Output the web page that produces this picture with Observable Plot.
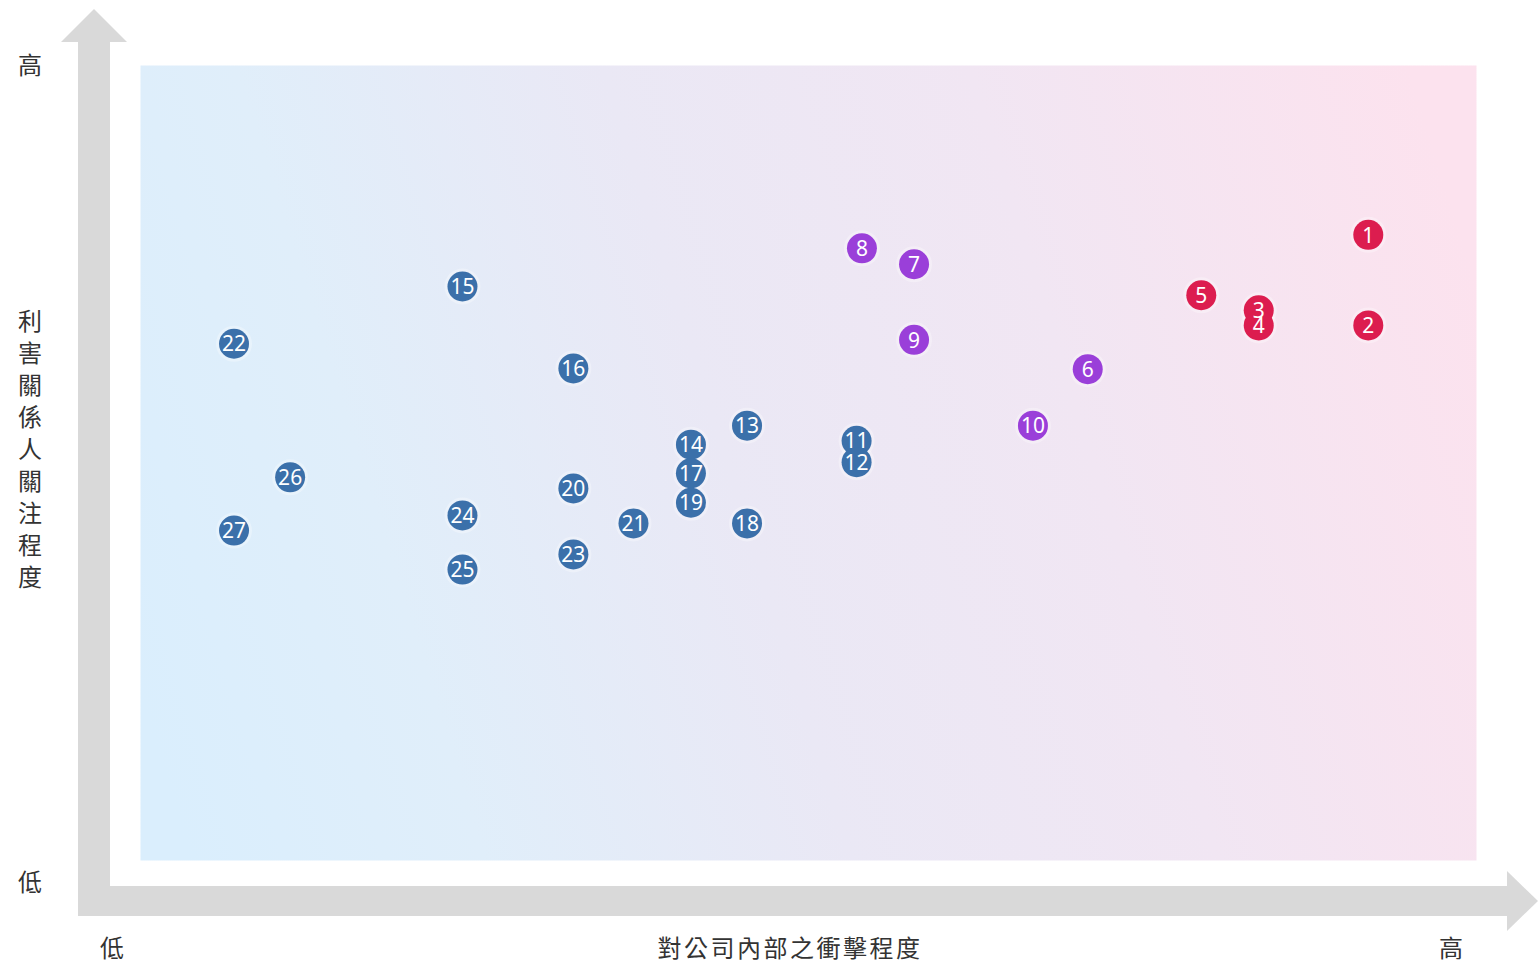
<!DOCTYPE html>
<html>
<head>
<meta charset="utf-8">
<script src="https://cdn.jsdelivr.net/npm/d3@7"></script>
<script src="https://cdn.jsdelivr.net/npm/@observablehq/plot@0.6"></script>
<style>
  html, body { margin: 0; padding: 0; background: #fff; }
  #chart { width: 1538px; height: 967px; }
</style>
</head>
<body>
<div id="chart"></div>
<script>
// Issue ids, impact on company (x), stakeholder concern (y), group
const ids    = [1, 2, 3, 4, 5, 6, 7, 8, 9, 10, 11, 12, 13, 14, 15, 16, 17, 18, 19, 20, 21, 22, 23, 24, 25, 26, 27];
const impact = [91.9, 91.9, 83.7, 83.7, 79.4, 70.9, 57.9, 54.0, 57.9, 66.8, 53.6, 53.6, 45.4, 41.2, 24.1, 32.4, 41.2, 45.4, 41.2, 32.4, 36.9, 7.0, 32.4, 24.1, 24.1, 11.2, 7.0];
const concern= [78.7, 67.3, 69.2, 67.3, 71.1, 61.8, 75.0, 77.0, 65.5, 54.7, 52.8, 50.1, 54.7, 52.3, 72.2, 61.9, 48.7, 42.4, 45.0, 46.8, 42.4, 65.0, 38.5, 43.4, 36.6, 48.2, 41.5];
const groups = ["high","high","high","high","high","mid","mid","mid","mid","mid",
                "low","low","low","low","low","low","low","low","low","low","low","low","low","low","low","low","low"];
const groupNames  = ["high", "mid", "low"];
const groupColors = ["#dc1d4f", "#9a3fd9", "#3b70aa"];

const xLabelTitle = "對公司內部之衝擊程度";
const yLabelTitle = "利害關係人關注程度";
const lowLabel = "低";
const highLabel = "高";

const data = ids.map((id, i) => ({id, x: impact[i], y: concern[i], g: groups[i]}));

const W = 1538, H = 967;
const mL = 140, mR = 62, mT = 65, mB = 107;

const chart = Plot.plot({
  width: W,
  height: H,
  marginLeft: mL, marginRight: mR, marginTop: mT, marginBottom: mB,
  x: {domain: [0, 100], axis: null},
  y: {domain: [0, 100], axis: null},
  color: {domain: groupNames, range: groupColors},
  style: {background: "transparent", overflow: "visible"},
  marks: [
    Plot.frame({fill: "url(#bggrad)", stroke: "none"}),
    Plot.dot(data, {x: "x", y: "y", r: 18, fill: "white", fillOpacity: 0.3}),
    Plot.dot(data, {x: "x", y: "y", r: 15, fill: "g"}),
    Plot.text(data, {x: "x", y: "y", text: "id", fill: "white", fontSize: 21, dy: 1,
      fontFamily: "'Noto Sans', sans-serif", style: {letterSpacing: "-1.5px"}})
  ]
});

const svg = d3.select(chart);
const defs = svg.insert("defs", ":first-child");
const grad = defs.append("linearGradient").attr("id", "bggrad")
  .attr("gradientUnits", "userSpaceOnUse")
  .attr("x1", mL).attr("y1", 700).attr("x2", W - mR).attr("y2", 280);
[[0, "#daeefd"], [0.2, "#e0eefa"], [0.45, "#eae8f5"], [0.7, "#f1e6f3"], [1, "#fce2ee"]]
  .forEach(([o, c]) => grad.append("stop").attr("offset", o).attr("stop-color", c));

// decorative arrows
const deco = svg.append("g").attr("fill", "#d9d9d9");
deco.append("rect").attr("x", 78).attr("y", 41).attr("width", 32).attr("height", 875);
deco.append("path").attr("d", "M61,42 L94,9 L127,42 Z");
deco.append("rect").attr("x", 78).attr("y", 886).attr("width", 1430).attr("height", 30);
deco.append("path").attr("d", "M1507,871 L1538,901 L1507,931 Z");

const font = "'Noto Sans CJK TC', 'Noto Sans CJK SC', sans-serif";
const txt = svg.append("g").attr("fill", "#333").attr("font-family", font).attr("font-size", 24)
  .attr("text-anchor", "middle");
txt.append("text").attr("x", 30).attr("y", 74).text(highLabel);
txt.append("text").attr("x", 30).attr("y", 891).text(lowLabel);
txt.append("text").attr("x", 112).attr("y", 957).text(lowLabel);
txt.append("text").attr("x", 1451).attr("y", 957).text(highLabel);
txt.append("text").attr("x", 790).attr("y", 957).attr("letter-spacing", "2.5px").text(xLabelTitle);
Array.from(yLabelTitle).forEach((ch, i) => {
  txt.append("text").attr("x", 30).attr("y", 330 + i * 32).text(ch);
});

document.getElementById("chart").appendChild(chart);
</script>
</body>
</html>
